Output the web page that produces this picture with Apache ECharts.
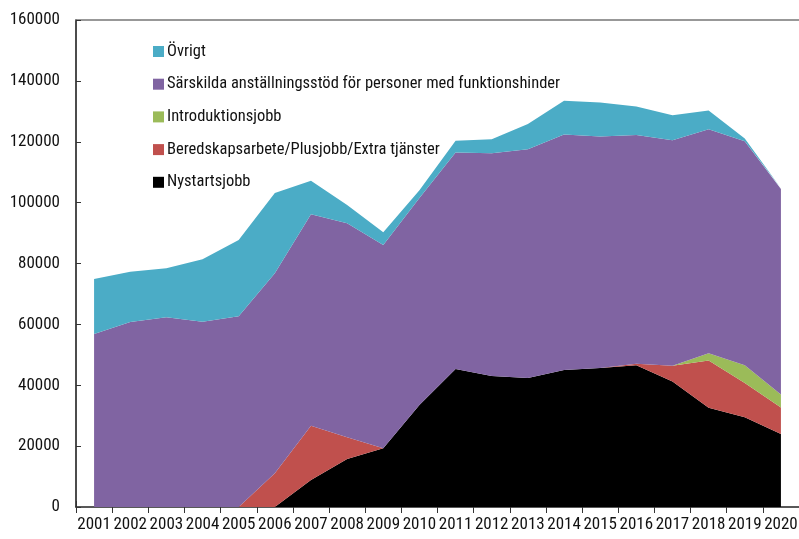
<!DOCTYPE html>
<html>
<head>
<meta charset="utf-8">
<script src="https://cdn.jsdelivr.net/npm/echarts@6/dist/echarts.min.js"></script>
<style>
  html, body { margin: 0; padding: 0; background: #fff; }
  #main { width: 799px; height: 539px; }
</style>
</head>
<body>
<div id="main"></div>
<script>
var years = ['2001','2002','2003','2004','2005','2006','2007','2008','2009','2010',
             '2011','2012','2013','2014','2015','2016','2017','2018','2019','2020'];
var nystartsjobb = [0,0,0,0,0,0,8900,15800,19300,33500,45300,43000,42400,45000,45700,46600,41200,32600,29500,24000];
var beredskap = [0,0,0,0,0,11100,17800,7100,0,0,0,0,0,0,0,500,5200,15500,11200,8700];
var introduktion = [0,0,0,0,0,0,0,0,0,0,0,0,0,0,0,0,0,2400,5900,4300];
var sarskilda = [56800,60800,62300,60900,62700,65700,69500,70300,66800,68000,71200,73200,75100,77400,76000,75100,74100,73600,73600,67500];
var ovrigt = [18100,16500,16100,20500,25000,26400,11000,6000,4200,2600,3800,4600,8300,11100,11200,9400,8200,6200,900,200];

var names = ['Nystartsjobb','Beredskapsarbete/Plusjobb/Extra tjänster','Introduktionsjobb',
             'Särskilda anställningsstöd för personer med funktionshinder','Övrigt'];
var colors = ['#000000','#C0504D','#9BBB59','#8064A2','#4BACC6'];
var values = [nystartsjobb, beredskap, introduktion, sarskilda, ovrigt];

var font = '"Roboto Condensed", "DejaVu Sans Condensed", "Liberation Sans Narrow", Roboto, sans-serif';

var myChart = echarts.init(document.getElementById('main'));

var series = names.map(function (n, i) {
  return {
    name: n,
    type: 'line',
    stack: 'total',
    xAxisIndex: 0,
    symbol: 'none',
    lineStyle: { width: 0 },
    areaStyle: { color: colors[i], opacity: 1 },
    itemStyle: { color: colors[i] },
    data: values[i]
  };
});

var option = {
  animation: false,
  grid: { left: 76, right: 0, top: 20, bottom: 32, outerBoundsMode: 'none', containLabel: false },
  legend: {
    orient: 'vertical',
    left: 148,
    top: 38,
    itemWidth: 11,
    itemHeight: 11,
    itemGap: 15.7,
    icon: 'rect',
    data: names.slice().reverse(),
    textStyle: { fontFamily: font, fontSize: 16.5, color: '#111', padding: [0, 0, 0, -2] }
  },
  xAxis: [
    {
      type: 'category',
      data: years,
      boundaryGap: true,
      axisLine: { lineStyle: { color: '#222', width: 1.5 } },
      axisTick: { show: true, length: 6, lineStyle: { color: '#333' } },
      axisLabel: { fontFamily: font, fontSize: 17, color: '#111', margin: 9, interval: 0 }
    },
    {
      type: 'category',
      data: years,
      position: 'bottom',
      boundaryGap: true,
      axisLine: { show: false },
      axisTick: { show: true, inside: true, length: 6, lineStyle: { color: '#333' } },
      axisLabel: { show: false }
    },
    {
      type: 'category',
      data: years,
      position: 'top',
      axisLine: { lineStyle: { color: '#777', width: 1.5 } },
      axisTick: { show: false },
      axisLabel: { show: false }
    }
  ],
  yAxis: {
    type: 'value',
    min: 0,
    max: 160000,
    interval: 20000,
    axisLine: { show: true, lineStyle: { color: '#111', width: 1.5 } },
    axisTick: { show: true, inside: true, length: 5, lineStyle: { color: '#333' } },
    splitLine: { show: false },
    axisLabel: { fontFamily: font, fontSize: 17, color: '#111', margin: 16,
      formatter: function (v) { return String(v); } }
  },
  series: series
};

myChart.setOption(option);
</script>
</body>
</html>
